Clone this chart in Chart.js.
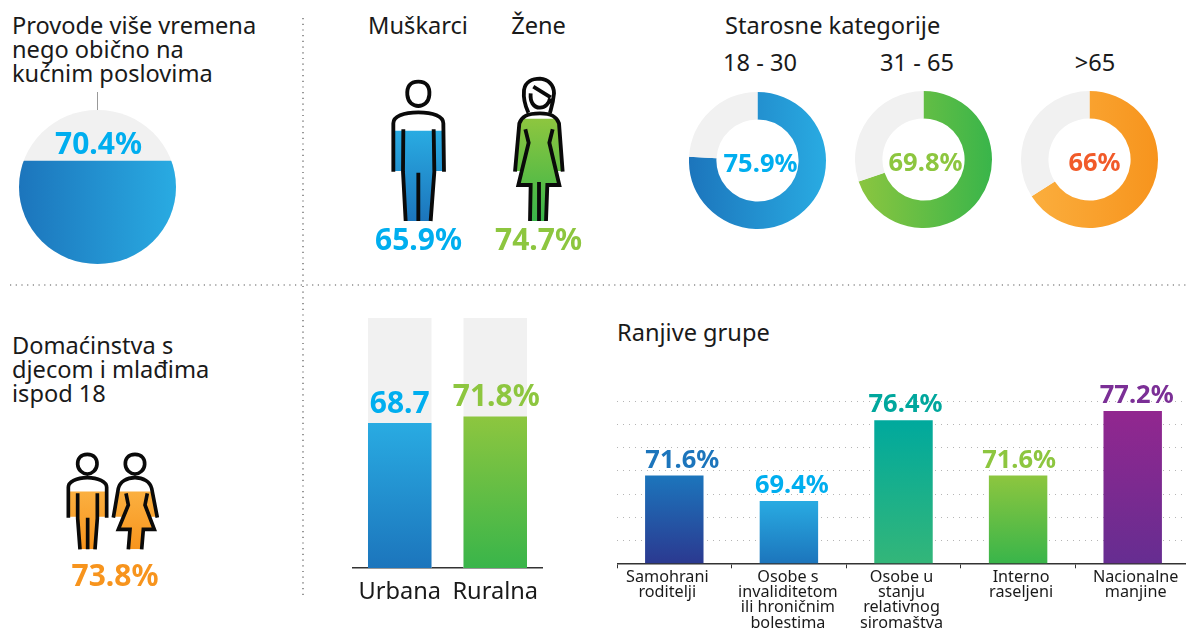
<!DOCTYPE html>
<html lang="bs">
<head>
<meta charset="utf-8">
<title>Kućni poslovi</title>
<script src="https://cdn.jsdelivr.net/npm/chart.js@4"></script>
<style>
html,body{margin:0;padding:0;background:#fff;width:1186px;height:630px;overflow:hidden}
#stage{position:relative;width:1186px;height:630px;overflow:hidden;font-family:"Noto Sans",sans-serif;color:#1a1a1a}
canvas{position:absolute;display:block}
svg{position:absolute;left:0;top:0}
.t{position:absolute;white-space:nowrap;font-size:23.6px;line-height:24.2px}
.c{transform:translateX(-50%)}
</style>
</head>
<body>
<div id="stage">
<svg width="1186" height="630">
  <line x1="303" y1="18" x2="303" y2="598" stroke="#555" stroke-width="1.2" stroke-dasharray="1.2 4.5"/>
  <line x1="10" y1="285" x2="1186" y2="285" stroke="#555" stroke-width="1.2" stroke-dasharray="1.2 4.5"/>
  <line x1="97.5" y1="92" x2="97.5" y2="110" stroke="#999" stroke-width="1"/>
</svg>
</div>
<script>
const pieValue = [70.4];
const genderLabels = ['Muškarci', 'Žene'];
const genderValues = [65.9, 74.7];
const ageLabels = ['18 - 30', '31 - 65', '>65'];
const ageValues = [75.9, 69.8, 66];
const ageRest = [24.1, 30.2, 34];
const familyValue = [73.8];
const areaLabels = ['Urbana', 'Ruralna'];
const areaValues = [68.7, 71.8];
const groupLabels = [
  ['Samohrani', 'roditelji'],
  ['Osobe s', 'invaliditetom', 'ili hroničnim', 'bolestima'],
  ['Osobe u', 'stanju', 'relativnog', 'siromaštva'],
  ['Interno', 'raseljeni'],
  ['Nacionalne', 'manjine']
];
const groupValues = [71.6, 69.4, 76.4, 71.6, 77.2];
const titleTop = ['Provode više vremena', 'nego obično na', 'kućnim poslovima'];
const titleFamily = ['Domaćinstva s', 'djecom i mlađima', 'ispod 18'];

const BLUE = ['#29abe2', '#1c75bc'], GREEN = ['#8dc63f', '#39b54a'], ORANGE = ['#fbb040', '#f7941d'];
const GREY = '#f1f1f1', FONT = '"Noto Sans", sans-serif';
const stage = document.getElementById('stage');

function text(lines, x, y, center) {
  const d = document.createElement('div');
  d.className = 't' + (center ? ' c' : '');
  d.style.left = x + 'px'; d.style.top = y + 'px';
  d.innerHTML = lines.map(s => s.replace(/>/g, '&gt;')).join('<br>');
  stage.appendChild(d);
}
text(titleTop, 12, 12.5);
text([genderLabels[0]], 418, 12.5, true);
text([genderLabels[1]], 538.5, 12.5, true);
text(['Starosne kategorije'], 725, 12.5);
text([ageLabels[0]], 760, 49.5, true);
text([ageLabels[1]], 917, 49.5, true);
text([ageLabels[2]], 1095, 49.5, true);
text(titleFamily, 12, 333);
text(['Ranjive grupe'], 617, 319.5);

function canvas(x, y, w, h) {
  const c = document.createElement('canvas');
  c.width = w; c.height = h;
  c.style.left = x + 'px'; c.style.top = y + 'px';
  c.style.width = w + 'px'; c.style.height = h + 'px';
  stage.appendChild(c);
  return c;
}
function vGrad(pairs) {
  return ctx => {
    const ch = ctx.chart;
    if (!ch.chartArea || ctx.dataIndex === undefined) return pairs[0][0];
    const v = ch.data.datasets[ctx.datasetIndex].data[ctx.dataIndex];
    const top = ch.scales.y.getPixelForValue(v), bot = ch.chartArea.bottom;
    const p = pairs[ctx.dataIndex % pairs.length];
    const g = ch.ctx.createLinearGradient(0, top, 0, bot);
    g.addColorStop(0, p[0]); g.addColorStop(1, p[1]);
    return g;
  };
}
function hGrad(left, right) {
  return ctx => {
    const ch = ctx.chart;
    if (!ch.chartArea) return left;
    const g = ch.ctx.createLinearGradient(ch.chartArea.left, 0, ch.chartArea.right, 0);
    g.addColorStop(0, left); g.addColorStop(1, right);
    return g;
  };
}
function labels(items) {
  return {
    id: 'labels',
    afterDraw(ch) {
      const ctx = ch.ctx;
      ctx.save();
      ctx.textAlign = 'center'; ctx.textBaseline = 'alphabetic';
      items(ch).forEach(it => {
        ctx.font = '700 ' + it.size + 'px ' + FONT;
        ctx.fillStyle = it.color;
        ctx.fillText(it.text, it.x, it.y);
      });
      ctx.restore();
    }
  };
}
function clipper(fill, strokes, ox, oy, lw) {
  const fp = new Path2D(fill), sp = new Path2D(strokes);
  return {
    id: 'icon',
    beforeDatasetsDraw(ch) {
      const ctx = ch.ctx, m = ctx.getTransform();
      ctx.save();
      ctx.translate(ox, oy); ctx.scale(1 / 3, 1 / 3);
      ctx.clip(fp);
      ctx.setTransform(m);
    },
    afterDatasetsDraw(ch) {
      const ctx = ch.ctx;
      ctx.restore();
      ctx.save();
      ctx.translate(ox, oy); ctx.scale(1 / 3, 1 / 3);
      ctx.strokeStyle = '#0a0a0a'; ctx.lineWidth = lw; ctx.lineJoin = 'miter'; ctx.lineCap = 'butt';
      ctx.stroke(sp);
      ctx.restore();
    }
  };
}
const base = {
  responsive: false, animation: false,
  plugins: { legend: { display: false }, tooltip: { enabled: false } },
  events: []
};
function hiddenScales(max) {
  return {
    x: { display: false, offset: true },
    y: { display: false, min: 0, max: max, beginAtZero: true }
  };
}

/* Pie-shaped level gauge */
const pieTop = 105.3;
new Chart(canvas(19, 110, 157, 154), {
  type: 'bar',
  data: { labels: ['Provode više vremena'], datasets: [
    { data: pieValue, backgroundColor: hGrad('#1c75bc', '#29abe2'), grouped: false, barPercentage: 1, categoryPercentage: 1, order: 1 },
    { data: [pieTop], backgroundColor: GREY, grouped: false, barPercentage: 1, categoryPercentage: 1, order: 2 }
  ]},
  options: { ...base, scales: hiddenScales(pieTop) },
  plugins: [{
    id: 'disc',
    beforeDatasetsDraw(ch) {
      const a = ch.chartArea, ctx = ch.ctx;
      ctx.save(); ctx.beginPath();
      ctx.ellipse((a.left + a.right) / 2, (a.top + a.bottom) / 2, (a.right - a.left) / 2, (a.bottom - a.top) / 2, 0, 0, Math.PI * 2);
      ctx.clip();
    },
    afterDatasetsDraw(ch) { ch.ctx.restore(); }
  }, labels(ch => [{ text: pieValue[0] + '%', x: 79.5, y: 44, size: 30, color: '#00aeef' }])]
});

/* Man & woman icons */
const genderFill =
  'M158 333 L158 190 Q160 160 235 155 Q312 160 314 190 L314 333 L283 333 L272 483 L197 483 L188 333 Z ' +
  'M523 333 L538 185 Q550 160 560 160 L635 160 Q650 165 657 185 L670 333 L650 333 L658 375 L622 375 L618 483 L572 483 L570 375 L535 375 L546 333 Z';
const genderStroke =
  'M235 65 C260 65 270 80 268 105 C266 128 250 138 235 138 C220 138 204 128 202 105 C200 80 210 65 235 65 Z ' +
  'M160 335 L160 190 C160 170 190 157 235 157 C280 157 310 170 310 190 L312 335 ' +
  'M190 208 L189 335 L197 483 M281 208 L283 335 L272 483 M235 338 L235 483 ' +
  'M565 158 C552 130 550 110 552 90 C556 65 578 56 600 56 C625 58 642 75 642 100 C640 125 635 140 630 158 ' +
  'M572 100 C570 125 580 143 600 143 C615 143 628 130 630 115 M580 80 L632 112 ' +
  'M525 335 L538 190 C545 170 560 160 600 160 C635 160 650 170 657 190 L668 335 ' +
  'M556 208 L566 248 L535 375 L572 375 L570 483 M638 208 L628 248 L658 375 L622 375 L618 483 M597 366 L597 483';
new Chart(canvas(340, 70, 280, 190), {
  type: 'bar',
  data: { labels: genderLabels, datasets: [
    { data: genderValues, backgroundColor: vGrad([BLUE, GREEN]), barPercentage: 1, categoryPercentage: 1 }
  ]},
  options: { ...base, layout: { padding: { top: 14.5, bottom: 39 } }, scales: hiddenScales(100) },
  plugins: [clipper(genderFill, genderStroke, 0, -10, 11.5),
    labels(ch => [
      { text: genderValues[0] + '%', x: 78.5, y: 180, size: 30, color: '#00aeef' },
      { text: genderValues[1] + '%', x: 198.5, y: 180, size: 30, color: '#8dc63f' }
    ])]
});

/* Age doughnuts */
const ageBoxes = [[689, 92], [854.5, 91], [1021, 91]];
const ageGrads = [['#1c75bc', '#29abe2'], ['#8dc63f', '#39b54a'], ['#fbb040', '#f7941d']];
const ageColors = ['#00aeef', '#8dc63f', '#f15a29'];
const ageDx = [3, 2, 5];
ageValues.forEach((v, i) => {
  const grad = hGrad(ageGrads[i][0], ageGrads[i][1]);
  new Chart(canvas(ageBoxes[i][0], ageBoxes[i][1], 137, 137), {
    type: 'doughnut',
    data: { labels: [ageLabels[i], ''], datasets: [{
      data: [v, ageRest[i]],
      backgroundColor: ctx => ctx.dataIndex === 0 ? grad(ctx) : GREY,
      borderWidth: 0
    }]},
    options: { ...base, cutout: '60%' },
    plugins: [labels(() => [{ text: v + '%', x: 68.5 + ageDx[i], y: 79.5, size: 25.5, color: ageColors[i] }])]
  });
});

/* Family icons */
const famFill =
  'M23 200 L23 110 Q25 88 82 81 Q140 88 142 110 L142 200 L112 200 L105 298 L60 298 L53 200 Z ' +
  'M158 200 L173 115 Q190 88 225 81 Q260 88 277 115 L294 200 L272 200 L283 238 L250 238 L245 298 L205 298 L210 238 L175 238 L186 200 Z';
const famStroke =
  'M82 13 C103 13 112 27 111 43 C110 60 96 72 82 72 C68 72 54 60 53 43 C52 27 61 13 82 13 Z ' +
  'M25 203 L25 112 C25 95 50 83 82 83 C114 83 140 95 140 112 L140 203 ' +
  'M53 130 L53 205 L60 298 M112 130 L112 205 L105 298 M83 203 L83 298 ' +
  'M225 13 C246 13 255 27 254 43 C253 60 239 72 225 72 C211 72 197 60 196 43 C195 27 204 13 225 13 Z ' +
  'M160 203 L175 115 C180 95 200 83 225 83 C250 83 270 95 275 115 L292 203 ' +
  'M198 130 L205 165 L175 238 L210 238 L205 298 M262 130 L255 165 L283 238 L250 238 L245 298';
new Chart(canvas(60, 450, 110, 150), {
  type: 'bar',
  data: { labels: ['Domaćinstva'], datasets: [
    { data: familyValue, backgroundColor: vGrad([ORANGE]), barPercentage: 1, categoryPercentage: 1 }
  ]},
  options: { ...base, layout: { padding: { top: 21.3, bottom: 50.7 } }, scales: hiddenScales(100) },
  plugins: [clipper(famFill, famStroke, 0, 0, 11),
    labels(() => [{ text: familyValue[0] + '%', x: 55, y: 136, size: 30, color: '#f7941d' }])]
});

/* Urban / rural */
const areaTop = 118.6;
new Chart(canvas(352, 300, 191, 310), {
  type: 'bar',
  data: { labels: areaLabels, datasets: [
    { data: areaValues, backgroundColor: vGrad([BLUE, GREEN]), grouped: false, barPercentage: 1, categoryPercentage: 0.665, order: 1 },
    { data: [areaTop, areaTop], backgroundColor: GREY, grouped: false, barPercentage: 1, categoryPercentage: 0.665, order: 2 }
  ]},
  options: { ...base, layout: { padding: { top: 17.7 } }, scales: {
    x: {
      afterFit(s) { s.height = 42; },
      grid: { display: false },
      border: { display: true, color: '#333', width: 1.5 },
      ticks: { color: '#1a1a1a', font: { family: FONT, size: 23.6 }, padding: 2, maxRotation: 0, autoSkip: false }
    },
    y: { display: false, min: 0, max: areaTop }
  }},
  plugins: [labels(ch => {
    const m = ch.getDatasetMeta(0).data;
    return [
      { text: String(areaValues[0]), x: m[0].x, y: m[0].y - 10, size: 30, color: '#00aeef' },
      { text: areaValues[1] + '%', x: m[1].x + 1, y: m[1].y - 10.5, size: 30, color: '#8dc63f' }
    ];
  })]
});

/* Vulnerable groups */
const groupGrads = [['#1c75bc', '#2b3990'], ['#29abe2', '#1c75bc'], ['#00a99d', '#33b679'], ['#8dc63f', '#39b54a'], ['#92278f', '#662d91']];
const groupColors = ['#1c75bc', '#00aeef', '#00a79d', '#8dc63f', '#7b2f96'];
const groupDx = [9, 4, 3, 2, 5];
const groupTickDx = [-7, -1, -2, 3, 3];
new Chart(canvas(617, 370, 573, 260), {
  type: 'bar',
  data: { labels: groupLabels, datasets: [
    { data: groupValues, backgroundColor: vGrad(groupGrads), barPercentage: 1, categoryPercentage: 0.51 }
  ]},
  options: { ...base, layout: { padding: { top: 31.7 } }, scales: {
    x: {
      afterFit(s) { s.height = 66.7; },
      grid: { drawOnChartArea: false, drawTicks: true, tickLength: 5, color: '#333', offset: true },
      border: { display: true, color: '#333', width: 1.5 },
      ticks: { color: '#1a1a1a', font: { family: FONT, size: 16.2, lineHeight: 0.95 }, padding: 1, maxRotation: 0, autoSkip: false }
    },
    y: {
      min: 64, max: 78,
      grid: { color: '#b5b5b5', lineWidth: 1, drawTicks: false },
      border: { display: false, dash: [1, 5] },
      ticks: { display: false, stepSize: 2 }
    }
  }},
  plugins: [{
    id: 'nudgeTicks',
    beforeDraw(ch) {
      ch.scales.x.getLabelItems().forEach((it, i) => { it.options.translation = [it.options.translation[0] + groupTickDx[i], it.options.translation[1]]; });
    }
  }, labels(ch => ch.getDatasetMeta(0).data.map((el, i) => ({
    text: groupValues[i] + '%', x: el.x + groupDx[i] - 1, y: el.y - 8, size: 25.5, color: groupColors[i]
  })))]
});
</script>
</body>
</html>
